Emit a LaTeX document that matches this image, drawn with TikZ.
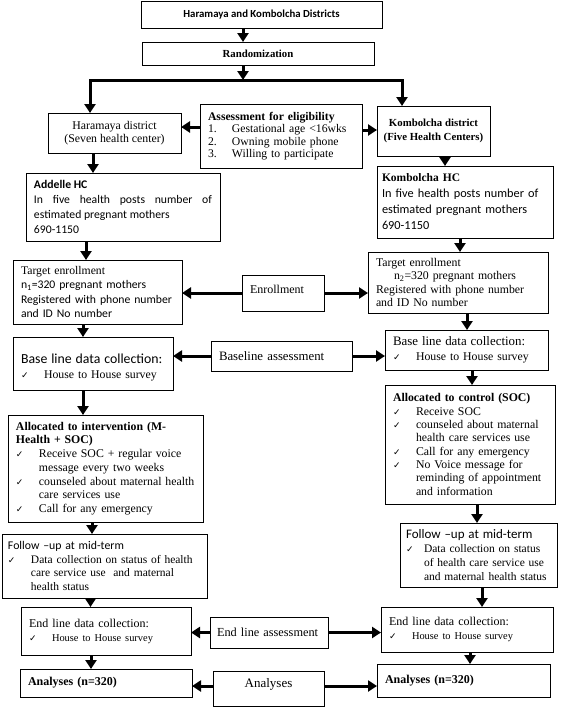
\documentclass[tikz,border=0pt]{standalone}
\usepackage{fontspec}
\setmainfont{Liberation Serif}
\newfontfamily\calibri{Carlito}
\newfontfamily\dejavu{DejaVu Sans}
\usetikzlibrary{arrows.meta}
\newcommand{\fsz}[2]{\fontsize{#1}{#2}\selectfont}
\newcommand{\ck}[1][23pt]{\makebox[#1][l]{\dejavu\fsz{9}{9}✓}}
\newcommand{\hg}[1][23pt]{\hspace*{#1}}
\begin{document}
\begin{tikzpicture}[x=1pt, y=-1pt,
    box/.style = {draw, line width=0.9pt, anchor=north west, inner xsep=8pt, inner ysep=2pt, outer sep=0pt, font=\fsz{11.8}{13.5}},
    arr/.style = {line width=3pt, -{Triangle[width=11pt, length=9pt]}}]
    \useasboundingbox (0,0) rectangle (568,707);
    \node[box, minimum width=241pt, minimum height=27pt, font=\calibri\fsz{10.8}{13}] (1) at (141,1) {\textbf{Haramaya and Kombolcha Districts}};
    \node[box, minimum width=232pt, minimum height=23pt, font=\fsz{10.8}{13}] (2) at (142,42) {\textbf{Randomization}};
    \node[box, minimum width=133pt, minimum height=40pt, align=center] (3) at (48,113) {Haramaya district\\(Seven health center)};
    \node[box, minimum width=162pt, minimum height=64pt, text width=146pt, align=left, font=\fsz{11.7}{12.5}] (4) at (200,104)
        {\textbf{Assessment for eligibility}\\\makebox[24pt][l]{1.}Gestational age <16wks\\\makebox[24pt][l]{2.}Owning mobile phone\\\makebox[24pt][l]{3.}Willing to participate};
    \node[box, minimum width=113pt, minimum height=50pt, inner xsep=3pt, align=center, font=\bfseries\fsz{10.8}{14}] (5) at (377,106) {Kombolcha district\\(Five Health Centers)};
    \node[box, minimum width=194pt, minimum height=68pt, text width=178pt, align=justify, font=\calibri\fsz{11.7}{15}] (6) at (26,173)
        {\textbf{Addelle HC}\\In five health posts number of\linebreak estimated pregnant mothers\\690-1150};
    \node[box, minimum width=176pt, minimum height=72pt, inner xsep=5pt, text width=166pt, align=left, font=\calibri\fsz{12.3}{16}] (7) at (377,166)
        {{\rmfamily\bfseries\fsz{11.5}{16}Kombolcha HC}\\In five health posts number of\\estimated pregnant mothers\\690-1150};
    \node[box, minimum width=169pt, minimum height=64pt, text width=153pt, align=left, font=\calibri\fsz{11.7}{14.3}] (8) at (13,260)
        {{\rmfamily Target enrollment}\\n\textsubscript{1}=320 pregnant mothers\\Registered with phone number\\and ID No number};
    \node[box, minimum width=82pt, minimum height=36pt, text width=66pt, text depth=8pt, align=left, font=\fsz{12}{14}] (9) at (242,275) {Enrollment};
    \node[box, minimum width=180pt, minimum height=61pt, text width=164pt, align=left] (10) at (368,252)
        {Target enrollment\\\hspace*{18pt}n\textsubscript{2}=320 pregnant mothers\\Registered with phone number\\and ID No number};
    \node[box, minimum width=160pt, minimum height=53pt, text width=144pt, text depth=10pt, align=left, font=\fsz{11.8}{15}] (11) at (13,337)
        {{\calibri\fsz{13.8}{15}Base line data collection:}\\\ck House to House survey};
    \node[box, minimum width=141pt, minimum height=30pt, text width=125pt, align=left, font=\fsz{12.8}{15}] (12) at (211,341) {Baseline assessment};
    \node[box, minimum width=163pt, minimum height=40pt, text width=147pt, align=left, font=\fsz{11.8}{15}] (13) at (385,330)
        {{\fsz{12.9}{15}Base line data collection:}\\\ck House to House survey};
    \node[box, minimum width=195pt, minimum height=107pt, text width=179pt, align=left, font=\fsz{11.8}{13.7}] (14) at (8,415)
        {\textbf{Allocated to intervention (M-}\\\textbf{Health + SOC)}\\\ck Receive SOC + regular voice\\\hg message every two weeks\\\ck counseled about maternal health\\\hg care services use\\\ck Call for any emergency};
    \node[box, minimum width=170pt, minimum height=119pt, text width=154pt, align=left, font=\fsz{11.8}{13.3}] (15) at (385,385)
        {\textbf{Allocated to control (SOC)}\\\ck Receive SOC\\\ck counseled about maternal\\\hg health care services use\\\ck Call for any emergency\\\ck No Voice message for\\\hg reminding of appointment\\\hg and information};
    \node[box, minimum width=205pt, minimum height=64pt, inner xsep=6pt, text width=193pt, align=left, font=\fsz{11.5}{13.7}] (16) at (2,534)
        {{\calibri\fsz{11.8}{13.7}Follow –up at mid-term}\\\ck Data collection on status of health\\\hg care service use\ \ and maternal\\\hg health status};
    \node[box, minimum width=157pt, minimum height=64pt, inner xsep=6pt, text width=145pt, align=left, font=\fsz{11.5}{14}] (17) at (400,523)
        {{\calibri\fsz{13}{14}Follow –up at mid-term}\\\ck[18pt]Data collection on status\\\hg[18pt]of health care service use\\\hg[18pt]and maternal health status};
    \node[box, minimum width=170pt, minimum height=48pt, text width=154pt, align=left, font=\fsz{12}{14}] (18) at (21,607)
        {End line data collection:\\{\fsz{10.4}{14}\ck House to House survey}};
    \node[box, minimum width=118pt, minimum height=31pt, inner xsep=7pt, text width=104pt, align=left, font=\fsz{12.3}{14}] (19) at (210,617) {End line assessment};
    \node[box, minimum width=172pt, minimum height=45pt, text width=156pt, align=left, font=\fsz{12}{14}] (20) at (381,607)
        {End line data collection:\\{\fsz{10.4}{14}\ck House to House survey}};
    \node[box, minimum width=172pt, minimum height=28pt, text width=156pt, align=left, font=\fsz{12}{14}] (21) at (20,669) {\textbf{Analyses (n=320)}};
    \node[box, minimum width=111pt, minimum height=35pt, text depth=12pt, align=center, font=\fsz{13}{15}] (22) at (213,671) {Analyses};
    \node[box, minimum width=173pt, minimum height=33pt, text width=157pt, align=left, font=\fsz{12}{14}] (23) at (377,664) {\textbf{Analyses (n=320)}};
    \coordinate (f) at (243,80);
    \coordinate (fl) at ([xshift=-24.5pt]3.north);
    \coordinate (fr) at ([xshift=-31.5pt]5.north);
    \draw[arr] ([xshift=-18.5pt]1.south) -- ([xshift=-18.5pt]1.south |- 2.north);
    \draw[arr] ([xshift=-15pt]2.south) -- (f);
    \draw[arr] (f) -| (fl);
    \draw[arr] (f) -| (fr);
    \draw[arr] ([yshift=9pt]4.west) -- ([yshift=9pt]4.west -| 3.east);
    \draw[arr] ([yshift=6pt]4.east) -- ([yshift=6pt]4.east -| 5.west);
    \draw[arr] ([xshift=-21.5pt]3.south) -- ([xshift=-21.5pt]3.south |- 6.north);
    \draw[arr] ([xshift=11.5pt]5.south) -- ([xshift=11.5pt]5.south |- 7.north);
    \draw[arr] ([xshift=-37pt]6.south) -- ([xshift=-37pt]6.south |- 8.north);
    \draw[arr] ([xshift=-5pt]7.south) -- ([xshift=-5pt]7.south |- 10.north);
    \draw[arr] (9.west) -- (9.west -| 8.east);
    \draw[arr] (9.east) -- (9.east -| 10.west);
    \draw[arr] ([xshift=-14.5pt]8.south) -- ([xshift=-14.5pt]8.south |- 11.north);
    \draw[arr] ([xshift=9pt]10.south) -- ([xshift=9pt]10.south |- 13.north);
    \draw[arr] (12.west) -- (12.west -| 11.east);
    \draw[arr] (12.east) -- (12.east -| 13.west);
    \draw[arr] ([xshift=-10pt]11.south) -- ([xshift=-10pt]11.south |- 14.north);
    \draw[arr] ([xshift=5.5pt]13.south) -- ([xshift=5.5pt]13.south |- 15.north);
    \draw[arr] ([xshift=-13.5pt]14.south) -- ([xshift=-13.5pt]14.south |- 16.north);
    \draw[arr] ([xshift=7pt]15.south) -- ([xshift=7pt]15.south |- 17.north);
    \draw[arr] ([xshift=-14pt]16.south) -- ([xshift=-14pt]16.south |- 18.north);
    \draw[arr] ([xshift=3.5pt]17.south) -- ([xshift=3.5pt]17.south |- 20.north);
    \draw[arr] (19.west) -- (19.west -| 18.east);
    \draw[arr] (19.east) -- (19.east -| 20.west);
    \draw[arr] ([xshift=-15pt]18.south) -- ([xshift=-15pt]18.south |- 21.north);
    \draw[arr] ([xshift=3pt]20.south) -- ([xshift=3pt]20.south |- 23.north);
    \draw[arr] ([yshift=2.5pt]22.west) -- ([yshift=2.5pt]22.west -| 21.east);
    \draw[arr] ([yshift=2.5pt]22.east) -- ([yshift=2.5pt]22.east -| 23.west);
\end{tikzpicture}
\end{document}
